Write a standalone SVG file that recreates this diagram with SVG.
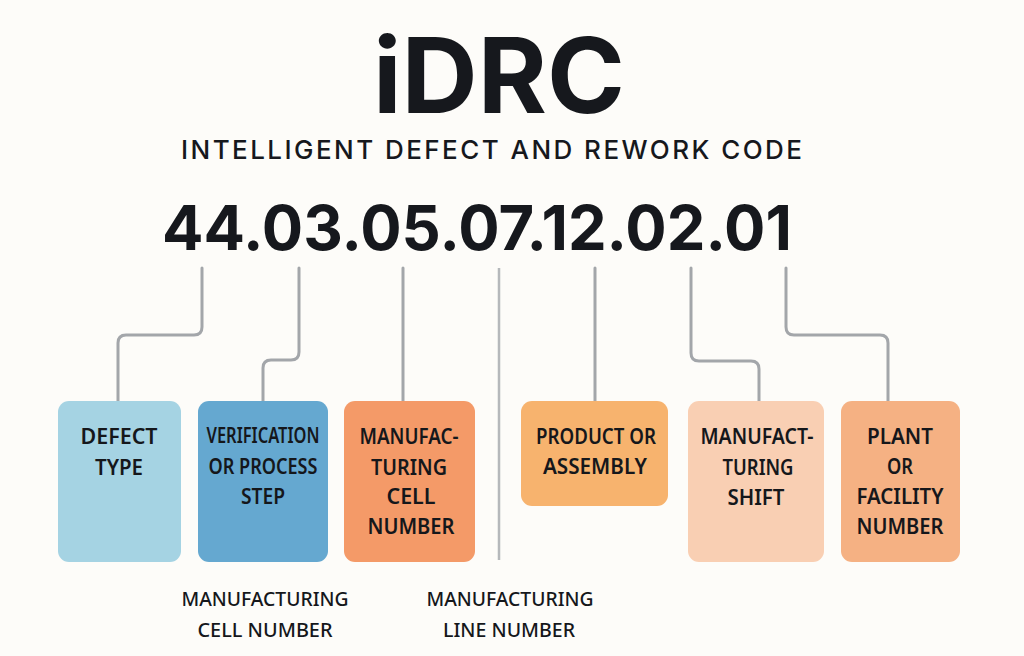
<svg xmlns="http://www.w3.org/2000/svg" width="1024" height="656" viewBox="0 0 1024 656">
  <style>
    .bg { fill: #fdfcf9; }
    .title { font-family: Inter, "Liberation Sans", sans-serif; font-weight: 700; fill: #16181d; }
    .sub { font-family: Inter, "Liberation Sans", sans-serif; font-weight: 500; font-size: 26px; fill: #16181d; }
    .code { font-family: Inter, "Liberation Sans", sans-serif; font-weight: 700; font-size: 62px; fill: #16181d; }
    .lbl { font-family: "Noto Sans", "Liberation Sans", sans-serif; font-weight: 600; font-size: 21px; fill: #15171b; text-anchor: middle; }
    .foot { font-family: "Noto Sans", "Liberation Sans", sans-serif; font-weight: 500; font-size: 20px; fill: #15171b; text-anchor: middle; }
    .conn { fill: none; stroke: #a3a6aa; stroke-width: 3; stroke-linecap: round; }
    .sep { fill: none; stroke: #b5b8bb; stroke-width: 2.5; }
  </style>
  <rect class="bg" x="0" y="0" width="1024" height="656"/>

  <g id="header">
    <text class="title" x="373" y="113" font-size="104" textLength="252" lengthAdjust="spacingAndGlyphs">iDRC</text>
    <text class="sub" x="181" y="159" textLength="621" lengthAdjust="spacing">INTELLIGENT DEFECT AND REWORK CODE</text>
    <text class="code" x="162" y="250" textLength="630" lengthAdjust="spacingAndGlyphs">44.03.05.07.12.02.01</text>
  </g>

  <g id="connectors">
    <path class="conn" d="M202 268 V327 Q202 335 194 335 H126 Q118 335 118 343 V401"/>
    <path class="conn" d="M299 268 V352 Q299 360 291 360 H271 Q263 360 263 368 V401"/>
    <path class="conn" d="M403 268 V401"/>
    <path class="sep" d="M499 268 V560"/>
    <path class="conn" d="M595 268 V401"/>
    <path class="conn" d="M691 268 V353 Q691 361 699 361 H751 Q759 361 759 369 V401"/>
    <path class="conn" d="M786 268 V327 Q786 335 794 335 H880 Q888 335 888 343 V401"/>
  </g>

  <g id="defect-type">
    <rect x="58" y="401" width="123" height="161" rx="11" fill="#a5d3e3"/>
    <text class="lbl" x="119" y="444" textLength="77" lengthAdjust="spacingAndGlyphs">DEFECT</text>
    <text class="lbl" x="119" y="475" textLength="48" lengthAdjust="spacingAndGlyphs">TYPE</text>
  </g>

  <g id="verification-step">
    <rect x="198" y="401" width="130" height="161" rx="11" fill="#65a8d0"/>
    <text class="lbl" x="263" y="443" textLength="113" lengthAdjust="spacingAndGlyphs">VERIFICATION</text>
    <text class="lbl" x="263" y="474" textLength="109" lengthAdjust="spacingAndGlyphs">OR PROCESS</text>
    <text class="lbl" x="263" y="504" textLength="44" lengthAdjust="spacingAndGlyphs">STEP</text>
  </g>

  <g id="cell-number">
    <rect x="344" y="401" width="131" height="161" rx="11" fill="#f49a68"/>
    <text class="lbl" x="409" y="444" textLength="99" lengthAdjust="spacingAndGlyphs">MANUFAC-</text>
    <text class="lbl" x="409" y="475" textLength="76" lengthAdjust="spacingAndGlyphs">TURING</text>
    <text class="lbl" x="411" y="504" textLength="49" lengthAdjust="spacingAndGlyphs">CELL</text>
    <text class="lbl" x="411" y="534" textLength="87" lengthAdjust="spacingAndGlyphs">NUMBER</text>
  </g>

  <g id="product-assembly">
    <rect x="521" y="401" width="147" height="105" rx="11" fill="#f7b36e"/>
    <text class="lbl" x="596" y="444" textLength="120" lengthAdjust="spacingAndGlyphs">PRODUCT OR</text>
    <text class="lbl" x="595" y="474" textLength="104" lengthAdjust="spacingAndGlyphs">ASSEMBLY</text>
  </g>

  <g id="shift">
    <rect x="688" y="401" width="136" height="161" rx="11" fill="#f9cfb3"/>
    <text class="lbl" x="757" y="444" textLength="113" lengthAdjust="spacingAndGlyphs">MANUFACT-</text>
    <text class="lbl" x="758" y="475" textLength="71" lengthAdjust="spacingAndGlyphs">TURING</text>
    <text class="lbl" x="756" y="505" textLength="57" lengthAdjust="spacingAndGlyphs">SHIFT</text>
  </g>

  <g id="plant">
    <rect x="841" y="401" width="119" height="161" rx="11" fill="#f5b183"/>
    <text class="lbl" x="900" y="444" textLength="66" lengthAdjust="spacingAndGlyphs">PLANT</text>
    <text class="lbl" x="900" y="474" textLength="26" lengthAdjust="spacingAndGlyphs">OR</text>
    <text class="lbl" x="900" y="504" textLength="87" lengthAdjust="spacingAndGlyphs">FACILITY</text>
    <text class="lbl" x="900" y="534" textLength="87" lengthAdjust="spacingAndGlyphs">NUMBER</text>
  </g>

  <g id="footer-cell">
    <text class="foot" x="265" y="606" textLength="167" lengthAdjust="spacingAndGlyphs">MANUFACTURING</text>
    <text class="foot" x="265" y="637" textLength="135" lengthAdjust="spacingAndGlyphs">CELL NUMBER</text>
  </g>

  <g id="footer-line">
    <text class="foot" x="510" y="606" textLength="167" lengthAdjust="spacingAndGlyphs">MANUFACTURING</text>
    <text class="foot" x="509" y="637" textLength="132" lengthAdjust="spacingAndGlyphs">LINE NUMBER</text>
  </g>
</svg>
